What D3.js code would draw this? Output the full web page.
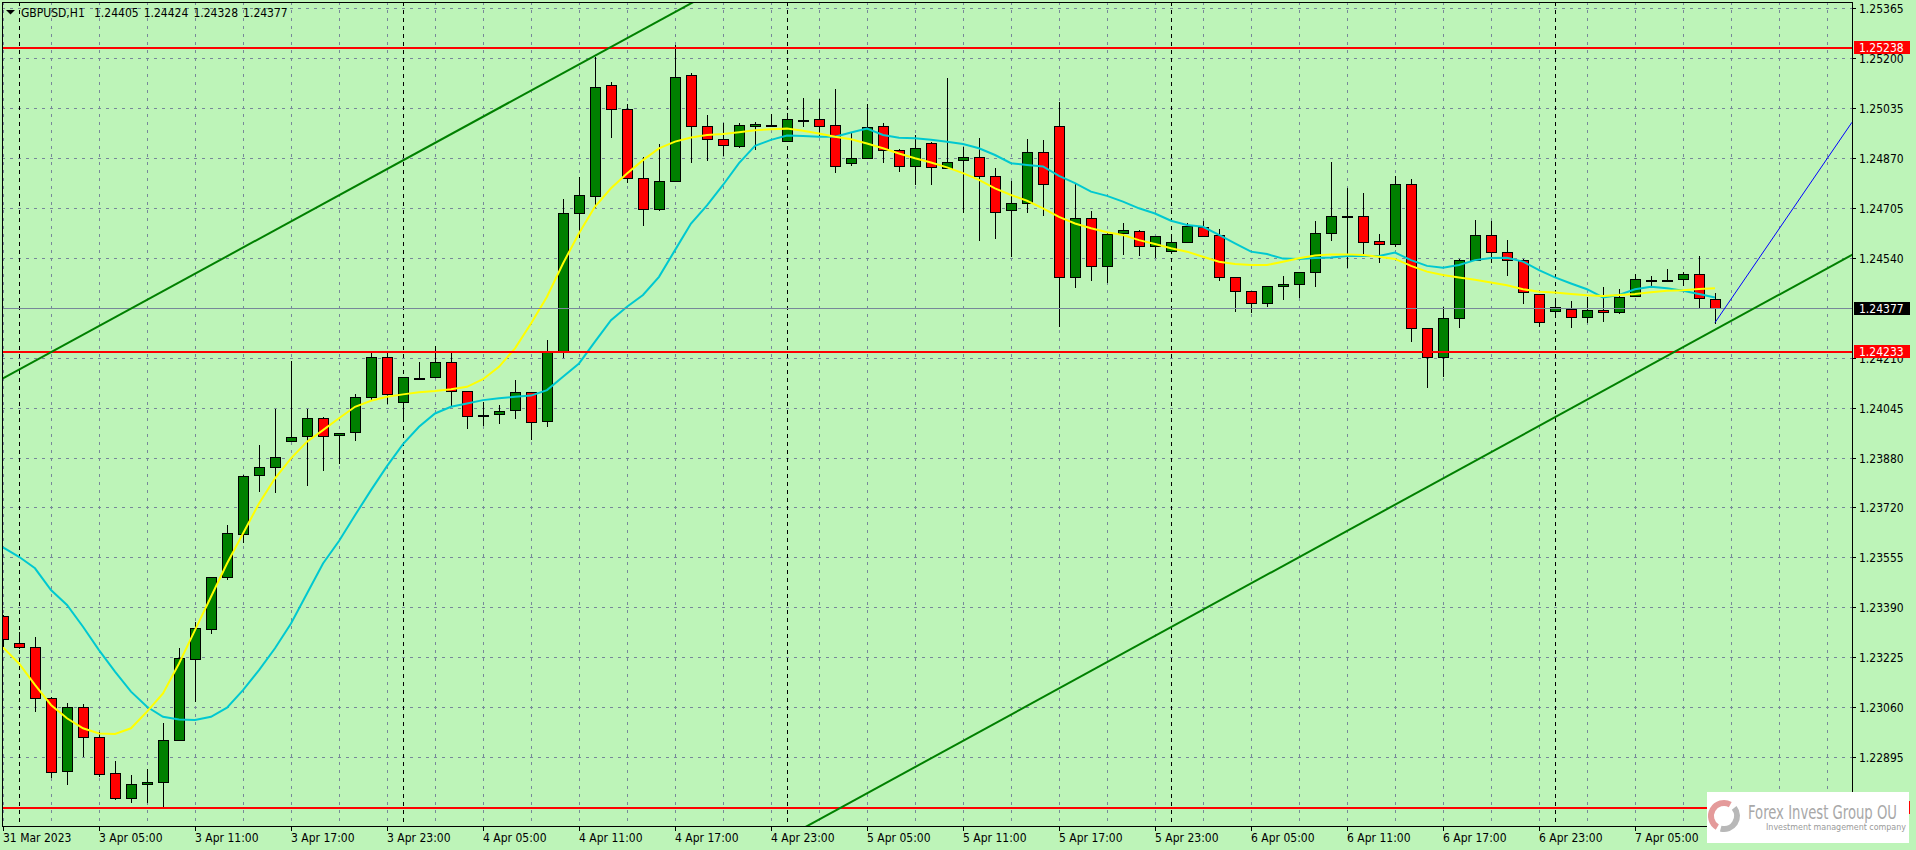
<!DOCTYPE html>
<html>
<head>
<meta charset="utf-8">
<script src="https://cdn.jsdelivr.net/npm/d3@7"></script>
<style>
html,body{margin:0;padding:0;background:#bdf4b8;}
svg{display:block;}
text{font-family:"DejaVu Sans Condensed","DejaVu Sans",sans-serif;font-stretch:condensed;}
</style>
</head>
<body>
<svg id="chart" width="1916" height="850"></svg>
<script>
// ---------------- DATA ----------------
const symbol = "GBPUSD,H1";
const times = [
"31.03 23:00",
"03.04 00:00","03.04 01:00","03.04 02:00","03.04 03:00","03.04 04:00","03.04 05:00","03.04 06:00","03.04 07:00","03.04 08:00","03.04 09:00","03.04 10:00","03.04 11:00",
"03.04 12:00","03.04 13:00","03.04 14:00","03.04 15:00","03.04 16:00","03.04 17:00","03.04 18:00","03.04 19:00","03.04 20:00","03.04 21:00","03.04 22:00","03.04 23:00",
"04.04 00:00","04.04 01:00","04.04 02:00","04.04 03:00","04.04 04:00","04.04 05:00","04.04 06:00","04.04 07:00","04.04 08:00","04.04 09:00","04.04 10:00","04.04 11:00",
"04.04 12:00","04.04 13:00","04.04 14:00","04.04 15:00","04.04 16:00","04.04 17:00","04.04 18:00","04.04 19:00","04.04 20:00","04.04 21:00","04.04 22:00","04.04 23:00",
"05.04 00:00","05.04 01:00","05.04 02:00","05.04 03:00","05.04 04:00","05.04 05:00","05.04 06:00","05.04 07:00","05.04 08:00","05.04 09:00","05.04 10:00","05.04 11:00",
"05.04 12:00","05.04 13:00","05.04 14:00","05.04 15:00","05.04 16:00","05.04 17:00","05.04 18:00","05.04 19:00","05.04 20:00","05.04 21:00","05.04 22:00","05.04 23:00",
"06.04 00:00","06.04 01:00","06.04 02:00","06.04 03:00","06.04 04:00","06.04 05:00","06.04 06:00","06.04 07:00","06.04 08:00","06.04 09:00","06.04 10:00","06.04 11:00",
"06.04 12:00","06.04 13:00","06.04 14:00","06.04 15:00","06.04 16:00","06.04 17:00","06.04 18:00","06.04 19:00","06.04 20:00","06.04 21:00","06.04 22:00","06.04 23:00",
"07.04 00:00","07.04 01:00","07.04 02:00","07.04 03:00","07.04 04:00","07.04 05:00","07.04 06:00","07.04 07:00","07.04 08:00","07.04 09:00","07.04 10:00"
];
const open = [
1.23360,1.23269,1.23258,1.23088,1.22849,1.23058,1.22959,1.22840,1.22758,1.22804,
1.22811,1.22949,1.23217,1.23316,1.23487,1.23629,1.23824,1.23850,1.23936,1.23955,
1.24012,1.23956,1.23966,1.24083,1.24215,1.24065,1.24146,1.24147,1.24197,1.24102,
1.24023,1.24025,1.24039,1.24098,1.24004,1.24234,1.24688,1.24746,1.25111,1.25034,
1.24804,1.24702,1.24796,1.25144,1.24976,1.24933,1.24910,1.24976,1.24981,1.24928,
1.24997,1.24999,1.24980,1.24853,1.24872,1.24976,1.24896,1.24844,1.24919,1.24837,
1.24863,1.24873,1.24813,1.24698,1.24721,1.24890,1.24976,1.24477,1.24672,1.24516,
1.24622,1.24630,1.24582,1.24565,1.24593,1.24644,1.24617,1.24477,1.24431,1.24394,
1.24448,1.24454,1.24494,1.24622,1.24679,1.24679,1.24596,1.24586,1.24784,1.24309,
1.24213,1.24342,1.24534,1.24616,1.24560,1.24533,1.24422,1.24366,1.24372,1.24345,
1.24369,1.24362,1.24417,1.24468,1.24468,1.24471,1.24487,1.24405];
const high = [
1.23363,1.23306,1.23290,1.23093,1.23071,1.23069,1.22978,1.22881,1.22835,1.22854,
1.23005,1.23253,1.23341,1.23489,1.23660,1.23824,1.23924,1.24044,1.24201,1.24044,
1.24015,1.23965,1.24091,1.24229,1.24229,1.24147,1.24199,1.24251,1.24226,1.24102,
1.24067,1.24056,1.24138,1.24098,1.24270,1.24735,1.24807,1.25205,1.25121,1.25048,
1.24875,1.24916,1.25244,1.25150,1.25013,1.24985,1.24988,1.24991,1.25016,1.25019,
1.25070,1.25067,1.25099,1.24952,1.25049,1.24988,1.24901,1.24947,1.24925,1.25135,
1.24908,1.24936,1.24837,1.24795,1.24933,1.24930,1.25055,1.24785,1.24696,1.24622,
1.24658,1.24632,1.24615,1.24614,1.24658,1.24663,1.24636,1.24477,1.24431,1.24448,
1.24482,1.24496,1.24663,1.24858,1.24771,1.24756,1.24620,1.24812,1.24802,1.24309,
1.24380,1.24538,1.24666,1.24664,1.24600,1.24537,1.24422,1.24397,1.24399,1.24413,
1.24444,1.24438,1.24488,1.24481,1.24504,1.24496,1.24548,1.24424];
const low = [
1.23260,1.23253,1.23047,1.22829,1.22805,1.22898,1.22832,1.22754,1.22747,1.22745,
1.22733,1.22949,1.23080,1.23305,1.23481,1.23604,1.23773,1.23769,1.23936,1.23792,
1.23841,1.23865,1.23940,1.24075,1.24064,1.24012,1.24144,1.24147,1.24053,1.23979,
1.23990,1.23998,1.24012,1.23945,1.23987,1.24215,1.24609,1.24710,1.24941,1.24793,
1.24650,1.24699,1.24796,1.24859,1.24863,1.24881,1.24906,1.24902,1.24977,1.24928,
1.24976,1.24947,1.24826,1.24849,1.24872,1.24859,1.24829,1.24786,1.24786,1.24837,
1.24694,1.24600,1.24608,1.24548,1.24694,1.24683,1.24317,1.24444,1.24469,1.24463,
1.24554,1.24551,1.24545,1.24562,1.24593,1.24615,1.24468,1.24367,1.24364,1.24384,
1.24405,1.24413,1.24450,1.24599,1.24510,1.24554,1.24529,1.24581,1.24268,1.24116,
1.24152,1.24314,1.24534,1.24527,1.24485,1.24394,1.24317,1.24347,1.24312,1.24331,
1.24334,1.24358,1.24417,1.24450,1.24466,1.24452,1.24377,1.24328];
const close = [
1.23283,1.23256,1.23088,1.22846,1.23058,1.22959,1.22837,1.22758,1.22804,1.22813,
1.22949,1.23220,1.23319,1.23487,1.23632,1.23820,1.23850,1.23883,1.23951,1.24012,
1.23955,1.23963,1.24083,1.24215,1.24091,1.24147,1.24146,1.24197,1.24102,1.24021,
1.24023,1.24036,1.24098,1.24001,1.24234,1.24688,1.24749,1.25106,1.25034,1.24804,
1.24702,1.24796,1.25139,1.24978,1.24933,1.24915,1.24980,1.24983,1.24981,1.24999,
1.24997,1.24976,1.24846,1.24870,1.24972,1.24896,1.24844,1.24903,1.24840,1.24857,
1.24873,1.24813,1.24694,1.24721,1.24890,1.24784,1.24477,1.24672,1.24516,1.24619,
1.24632,1.24582,1.24613,1.24593,1.24647,1.24615,1.24477,1.24433,1.24394,1.24448,
1.24454,1.24494,1.24622,1.24679,1.24679,1.24593,1.24586,1.24784,1.24309,1.24213,
1.24342,1.24534,1.24616,1.24560,1.24533,1.24430,1.24329,1.24378,1.24345,1.24369,
1.24362,1.24413,1.24471,1.24468,1.24468,1.24487,1.24408,1.24377];
// yellow moving average (fast)
const maFast = [
1.23256,1.23203,1.23132,1.23066,1.23022,1.22989,1.22972,1.22970,1.22989,1.23044,
1.23104,1.23203,1.23313,1.23423,1.23533,1.23632,1.23731,1.23814,1.23880,1.23935,
1.23973,1.24012,1.24050,1.24070,1.24083,1.24091,1.24098,1.24102,1.24108,1.24116,
1.24141,1.24182,1.24243,1.24325,1.24413,1.24523,1.24623,1.24711,1.24771,1.24820,
1.24864,1.24903,1.24925,1.24939,1.24947,1.24950,1.24956,1.24963,1.24966,1.24968,
1.24961,1.24952,1.24941,1.24933,1.24919,1.24903,1.24886,1.24870,1.24856,1.24840,
1.24821,1.24799,1.24771,1.24749,1.24730,1.24705,1.24677,1.24655,1.24639,1.24626,
1.24617,1.24600,1.24587,1.24573,1.24562,1.24545,1.24529,1.24521,1.24518,1.24518,
1.24529,1.24540,1.24549,1.24553,1.24553,1.24551,1.24545,1.24538,1.24515,1.24496,
1.24485,1.24477,1.24469,1.24460,1.24451,1.24438,1.24430,1.24427,1.24422,1.24418,
1.24416,1.24419,1.24422,1.24428,1.24433,1.24435,1.24439,1.24441];
// turquoise moving average (slow)
const maSlow = [
1.23586,1.23555,1.23517,1.23445,1.23396,1.23324,1.23247,1.23176,1.23110,1.23060,
1.23027,1.23018,1.23016,1.23027,1.23057,1.23115,1.23181,1.23253,1.23335,1.23434,
1.23533,1.23607,1.23692,1.23775,1.23854,1.23927,1.23984,1.24028,1.24050,1.24061,
1.24072,1.24078,1.24083,1.24087,1.24105,1.24149,1.24193,1.24265,1.24336,1.24380,
1.24419,1.24479,1.24567,1.24655,1.24715,1.24782,1.24854,1.24911,1.24931,1.24945,
1.24944,1.24941,1.24941,1.24955,1.24968,1.24947,1.24938,1.24936,1.24931,1.24925,
1.24917,1.24903,1.24881,1.24854,1.24848,1.24843,1.24812,1.24788,1.24760,1.24746,
1.24727,1.24705,1.24688,1.24664,1.24650,1.24644,1.24617,1.24589,1.24562,1.24554,
1.24539,1.24538,1.24541,1.24543,1.24548,1.24548,1.24548,1.24559,1.24534,1.24515,
1.24509,1.24518,1.24534,1.24541,1.24542,1.24529,1.24501,1.24477,1.24457,1.24438,
1.24411,1.24419,1.24438,1.24446,1.24441,1.24433,1.24422,1.24411];
const yTicks = [1.25365,1.25200,1.25035,1.24870,1.24705,1.24540,1.24210,1.24045,1.23880,1.23720,1.23555,1.23390,1.23225,1.23060,1.22895];
const xTickTimes  = ["31.03 23:00","03.04 05:00","03.04 11:00","03.04 17:00","03.04 23:00","04.04 05:00","04.04 11:00","04.04 17:00","04.04 23:00","05.04 05:00","05.04 11:00","05.04 17:00","05.04 23:00","06.04 05:00","06.04 11:00","06.04 17:00","06.04 23:00","07.04 05:00"];
const xTickLabels = ["31 Mar 2023","3 Apr 05:00","3 Apr 11:00","3 Apr 17:00","3 Apr 23:00","4 Apr 05:00","4 Apr 11:00","4 Apr 17:00","4 Apr 23:00","5 Apr 05:00","5 Apr 11:00","5 Apr 17:00","5 Apr 23:00","6 Apr 05:00","6 Apr 11:00","6 Apr 17:00","6 Apr 23:00","7 Apr 05:00"];
const levelPrices = [1.25238, 1.24233, 1.22730];
const bidPrice = 1.24377;
// trend lines: [bar index, price]
const upperTrend = [[-1, 1.24115], [45, 1.25439]];
const lowerTrend = [[49, 1.22630], [116, 1.24564]];
const blueRay    = [[107, 1.24328], [115.5625, 1.24989]];
const logoTitle = "Forex Invest Group OU";
const logoSub = "Investment management company";

// ---------------- DRAW ----------------
const W = 1916, H = 850;
const P = {l: 2, t: 2, r: 1852, b: 826};
const BG = "#bdf4b8", GRID = "#778899";
const svg = d3.select("#chart");
const x = d3.scaleLinear().domain([0, times.length - 1]).range([3, 3 + 16 * (times.length - 1)]);
const y = d3.scaleLinear().domain([1.226665, 1.253859]).range([P.b, P.t]);
const px = v => Math.round(v) + 0.5;
const lastIdx = x.invert(P.r);

svg.append("rect").attr("width", W).attr("height", H).attr("fill", BG);
svg.append("defs").append("clipPath").attr("id", "plot")
  .append("rect").attr("x", P.l).attr("y", P.t).attr("width", P.r - P.l).attr("height", P.b - P.t);

const plot = svg.append("g").attr("clip-path", "url(#plot)");

// horizontal grid
plot.append("g").selectAll("line").data(yTicks).join("line")
  .attr("x1", P.l).attr("x2", P.r)
  .attr("y1", d => px(y(d))).attr("y2", d => px(y(d)))
  .attr("stroke", GRID).attr("stroke-dasharray", "3,5").attr("shape-rendering", "crispEdges");
// vertical grid every 3 bars
const vGrid = d3.range(0, lastIdx, 3);
plot.append("g").selectAll("line").data(vGrid).join("line")
  .attr("x1", d => px(x(d))).attr("x2", d => px(x(d)))
  .attr("y1", P.t).attr("y2", P.b)
  .attr("stroke", GRID).attr("stroke-dasharray", "3,5").attr("shape-rendering", "crispEdges");
// day separators
const daySep = times.map((t, i) => [t, i]).filter(d => d[0].endsWith("00:00")).map(d => d[1]);
plot.append("g").selectAll("line").data(daySep).join("line")
  .attr("x1", d => px(x(d))).attr("x2", d => px(x(d)))
  .attr("y1", P.t).attr("y2", P.b)
  .attr("stroke", "#000").attr("stroke-dasharray", "4,4").attr("shape-rendering", "crispEdges");

// candles
const bars = times.map((t, i) => ({i, o: open[i], h: high[i], l: low[i], c: close[i]}));
const cg = plot.append("g").attr("shape-rendering", "crispEdges");
cg.selectAll("line").data(bars).join("line")
  .attr("x1", d => px(x(d.i))).attr("x2", d => px(x(d.i)))
  .attr("y1", d => Math.round(y(d.h))).attr("y2", d => Math.round(y(d.l)) + 1)
  .attr("stroke", "#000");
cg.selectAll("rect").data(bars).join("rect")
  .attr("x", d => Math.round(x(d.i)) - 5 + 0.5)
  .attr("width", 10)
  .attr("y", d => Math.round(y(Math.max(d.o, d.c))) + 0.5)
  .attr("height", d => Math.max(1, Math.round(y(Math.min(d.o, d.c))) - Math.round(y(Math.max(d.o, d.c)))))
  .attr("fill", d => d.c > d.o ? "#008000" : (d.c < d.o ? "#ff0000" : "#000"))
  .attr("stroke", "#000");

// moving averages
const lineGen = d3.line().x((d, i) => x(i)).y(d => y(d));
plot.append("path").datum(maSlow).attr("d", lineGen)
  .attr("fill", "none").attr("stroke", "#00c8d0").attr("stroke-width", 2);
plot.append("path").datum(maFast).attr("d", lineGen)
  .attr("fill", "none").attr("stroke", "#ffff00").attr("stroke-width", 2);

// horizontal levels
plot.append("g").selectAll("line").data(levelPrices).join("line")
  .attr("x1", P.l).attr("x2", P.r)
  .attr("y1", d => Math.round(y(d)) + 0.5).attr("y2", d => Math.round(y(d)) + 0.5)
  .attr("stroke", "#ff0000").attr("stroke-width", 2).attr("shape-rendering", "crispEdges");
// bid line
plot.append("line").attr("x1", P.l).attr("x2", P.r)
  .attr("y1", px(y(bidPrice))).attr("y2", px(y(bidPrice)))
  .attr("stroke", GRID).attr("shape-rendering", "crispEdges");
// trend lines
const tl = d3.line().x(d => x(d[0])).y(d => y(d[1]));
plot.append("path").datum(upperTrend).attr("d", tl).attr("stroke", "#008000").attr("stroke-width", 2).attr("fill", "none");
plot.append("path").datum(lowerTrend).attr("d", tl).attr("stroke", "#008000").attr("stroke-width", 2).attr("fill", "none");
plot.append("path").datum(blueRay).attr("d", tl).attr("stroke", "#0000ff").attr("stroke-width", 1).attr("fill", "none");

// frame
const frame = svg.append("g").attr("shape-rendering", "crispEdges").attr("stroke", "#000");
frame.append("line").attr("x1", P.l + 0.5).attr("x2", P.l + 0.5).attr("y1", P.t).attr("y2", P.b + 1);
frame.append("line").attr("x1", P.l).attr("x2", P.r + 1).attr("y1", P.t + 0.5).attr("y2", P.t + 0.5);
frame.append("line").attr("x1", P.r + 0.5).attr("x2", P.r + 0.5).attr("y1", P.t).attr("y2", P.b + 1);
frame.append("line").attr("x1", P.l).attr("x2", P.r + 1).attr("y1", P.b + 0.5).attr("y2", P.b + 0.5);

// right axis
const fmt = d3.format(".5f");
const ra = svg.append("g");
ra.selectAll("line").data(yTicks).join("line")
  .attr("x1", P.r).attr("x2", P.r + 4)
  .attr("y1", d => px(y(d))).attr("y2", d => px(y(d)))
  .attr("stroke", "#000").attr("shape-rendering", "crispEdges");
ra.selectAll("text").data(yTicks).join("text")
  .attr("x", 1859).attr("y", d => Math.round(y(d)) + 5)
  .attr("font-size", 12).attr("fill", "#000").text(d => fmt(d));

// bottom axis
const xTicks = xTickTimes.map((t, k) => ({i: times.indexOf(t), label: xTickLabels[k]}));
const ba = svg.append("g");
ba.selectAll("line").data(xTicks).join("line")
  .attr("x1", d => px(x(d.i))).attr("x2", d => px(x(d.i)))
  .attr("y1", P.b).attr("y2", P.b + 5)
  .attr("stroke", "#000").attr("shape-rendering", "crispEdges");
ba.selectAll("text").data(xTicks).join("text")
  .attr("x", d => Math.round(x(d.i))).attr("y", 842)
  .attr("font-size", 12).attr("fill", "#000").text(d => d.label);

// price labels on axis (the lowest one is hidden under the logo box, only its box edge shows)
const tags = [
  {v: levelPrices[0], bg: "#ff0000", fg: "#fff", txt: true},
  {v: levelPrices[1], bg: "#ff0000", fg: "#fff", txt: true},
  {v: levelPrices[2], bg: "#ff0000", fg: "#fff", txt: false},
  {v: bidPrice, bg: "#000", fg: "#fff", txt: true}
];
const tg = svg.append("g");
tags.forEach(t => {
  const yy = Math.round(y(t.v));
  tg.append("rect").attr("x", P.r + 2).attr("y", yy - 6).attr("width", 56).attr("height", 13)
    .attr("fill", t.bg).attr("shape-rendering", "crispEdges");
  if (t.txt) tg.append("text").attr("x", 1859).attr("y", yy + 5).attr("font-size", 12)
    .attr("fill", t.fg).text(fmt(t.v));
});

// header
const li = times.length - 1;
const hdr = svg.append("g");
hdr.append("path").attr("d", "M6,10 L15,10 L10.5,14.5 Z").attr("fill", "#000");
hdr.append("text").attr("x", 21).attr("y", 17).attr("font-size", 12).text(symbol);
[open[li], high[li], low[li], close[li]].forEach((v, k) => {
  hdr.append("text").attr("x", 94 + k * 49.7).attr("y", 17).attr("font-size", 12).text(fmt(v));
});

// logo
const lg = svg.append("g");
lg.append("rect").attr("x", 1707).attr("y", 792).attr("width", 202).attr("height", 51).attr("fill", "#fff");
const arc = d3.arc();
lg.append("path").attr("transform", "translate(1724,816)")
  .attr("d", arc({innerRadius: 10, outerRadius: 16, startAngle: -2.6, endAngle: 0.5})).attr("fill", "#e49a9a");
lg.append("path").attr("transform", "translate(1724,816)")
  .attr("d", arc({innerRadius: 10, outerRadius: 16, startAngle: 0.9, endAngle: 3.4})).attr("fill", "#b8b8b8");
lg.append("text").attr("x", 1748).attr("y", 819).attr("font-size", 20)
  .attr("textLength", 149).attr("lengthAdjust", "spacingAndGlyphs")
  .attr("fill", "#a8a8a8").text(logoTitle);
lg.append("text").attr("x", 1766).attr("y", 830).attr("font-size", 9)
  .attr("textLength", 140).attr("lengthAdjust", "spacingAndGlyphs")
  .attr("fill", "#9a9a9a").text(logoSub);
</script>
</body>
</html>
